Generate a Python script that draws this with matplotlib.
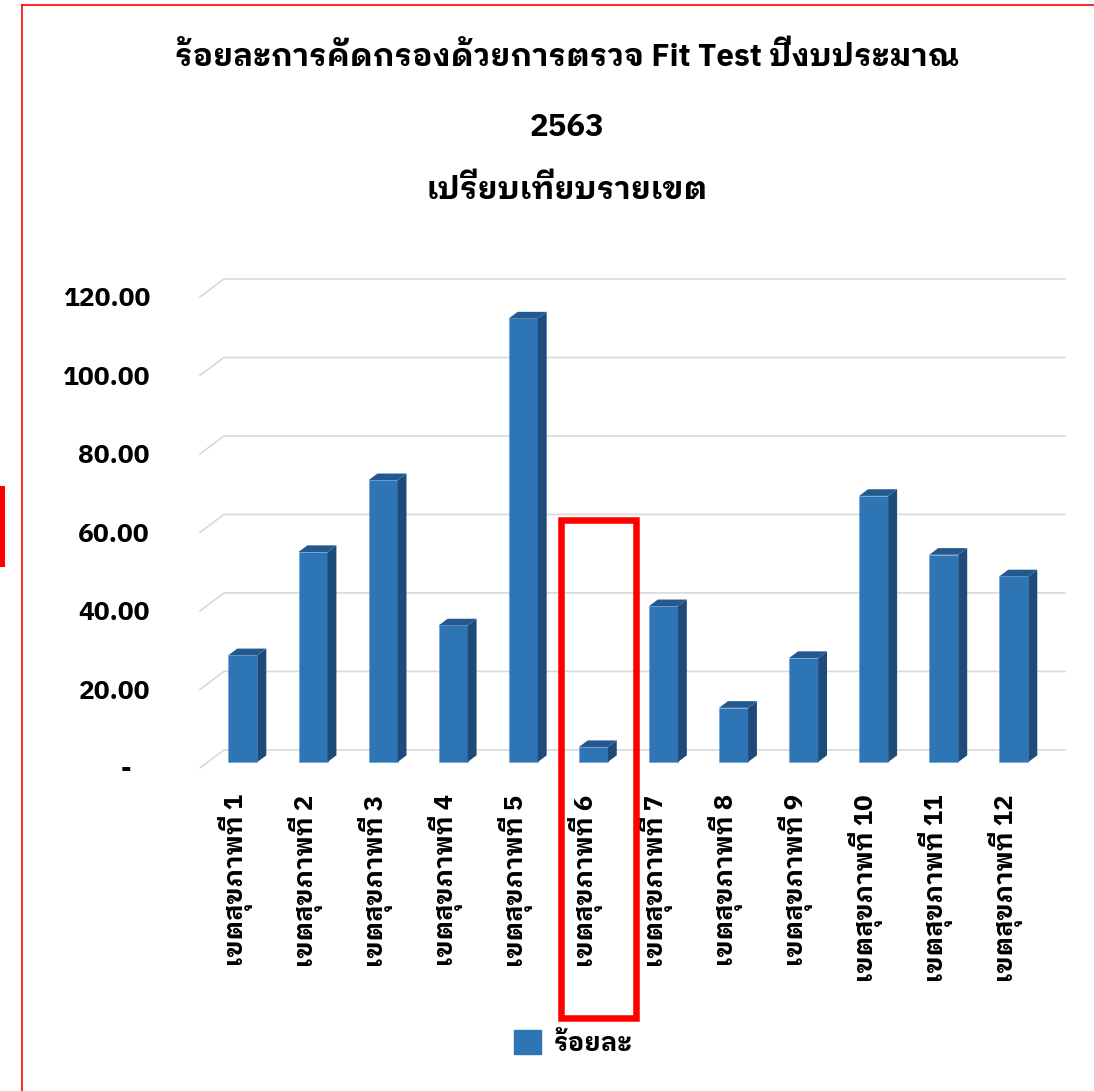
import numpy as np
import matplotlib
matplotlib.use("Agg")
import matplotlib.pyplot as plt
from matplotlib.patches import Polygon, Rectangle, Patch
from matplotlib.lines import Line2D

# data
regions = ['เขตสุขภาพที่ 1', 'เขตสุขภาพที่ 2', 'เขตสุขภาพที่ 3', 'เขตสุขภาพที่ 4',
           'เขตสุขภาพที่ 5', 'เขตสุขภาพที่ 6', 'เขตสุขภาพที่ 7', 'เขตสุขภาพที่ 8',
           'เขตสุขภาพที่ 9', 'เขตสุขภาพที่ 10', 'เขตสุขภาพที่ 11', 'เขตสุขภาพที่ 12']
percent = [27.2, 53.5, 71.8, 34.8, 113.0, 3.8, 39.7, 13.8, 26.5, 67.8, 52.8, 47.3]
yticks = [0, 20, 40, 60, 80, 100, 120]
ytick_labels = ['-   ', '20.00', '40.00', '60.00', '80.00', '100.00', '120.00']
series_name = 'ร้อยละ'
title_lines = ['ร้อยละการคัดกรองด้วยการตรวจ Fit Test ปีงบประมาณ', '2563', 'เปรียบเทียบรายเขต']

plt.rcParams['font.family'] = ['IBM Plex Sans Thai Looped', 'Noto Sans', 'DejaVu Sans']

W, H = 1094, 1091
fig = plt.figure(figsize=(W / 100, H / 100), dpi=100)
ax = fig.add_axes([0.1828, 0.2961, 0.7907, 0.4497])

n = len(regions)
x = np.arange(n) + 0.5
depth_x, depth_y = 0.342, 4.59   # fake 3d depth of the floor
ax.set_xlim(0, n + depth_x)
ax.set_ylim(0, 125)

# gridlines: short diagonal on the left, then along the back wall
for v in yticks:
    ax.plot([0, depth_x, n + depth_x], [v, v + depth_y, v + depth_y],
            color='#d9d9d9', lw=1.2, zorder=1, clip_on=False)

# bars with side and top faces
ox, oy = 0.33 * depth_x, 0.33 * depth_y
sx, sy = 0.37 * depth_x, 0.37 * depth_y
bar_w = 0.414
ax.bar(x + ox, percent, width=bar_w, bottom=oy, color='#2e75b6',
       edgecolor='#6a9fd0', linewidth=0.4, zorder=3)
for xi, v in zip(x, percent):
    left = xi + ox - bar_w / 2
    right = left + bar_w
    top = oy + v
    ax.add_patch(Polygon([(right, oy), (right + sx, oy + sy), (right + sx, top + sy), (right, top)],
                         closed=True, facecolor='#1f4b7a', edgecolor='none', zorder=3))
    ax.add_patch(Polygon([(left, top), (left + sx, top + sy), (right + sx, top + sy), (right, top)],
                         closed=True, facecolor='#245990', edgecolor='none', zorder=3))

for s in ax.spines.values():
    s.set_visible(False)
ax.set_yticks(yticks, ytick_labels, fontsize=19, fontweight='bold')
ax.set_xticks(x, regions, rotation=90, fontsize=18.5, fontweight='bold')
ax.tick_params(axis='y', length=0, pad=36)
ax.tick_params(axis='x', length=0, pad=19)

# title
title_y = [57, 127, 190]
for line, yy in zip(title_lines, title_y):
    fig.text(0.518, 1 - yy / H, line, ha='center', va='center', fontsize=22.5, fontweight='bold')

# legend
fig.legend(handles=[Patch(color='#2e75b6', label=series_name)], loc='center',
           bbox_to_anchor=(0.524, 0.044), frameon=False, handlelength=1.05, handleheight=1.05,
           handletextpad=0.5, prop={'size': 18.5, 'weight': 'bold'})

# red marks on the screenshot
fig.add_artist(Line2D([22 / W, 22 / W], [0, 1 - 5 / H], color='red', lw=1.2))
fig.add_artist(Line2D([22 / W, 1], [1 - 5 / H, 1 - 5 / H], color='red', lw=1.2))
fig.add_artist(Rectangle((0, 1 - 567 / H), 5 / W, 81 / H, facecolor='red', edgecolor='none',
                         transform=fig.transFigure))
fig.add_artist(Rectangle((561 / W, 1 - 1018 / H), 75 / W, 498 / H, fill=False, edgecolor='red',
                         lw=4.7, transform=fig.transFigure))

fig.savefig('out.png', dpi=100)
